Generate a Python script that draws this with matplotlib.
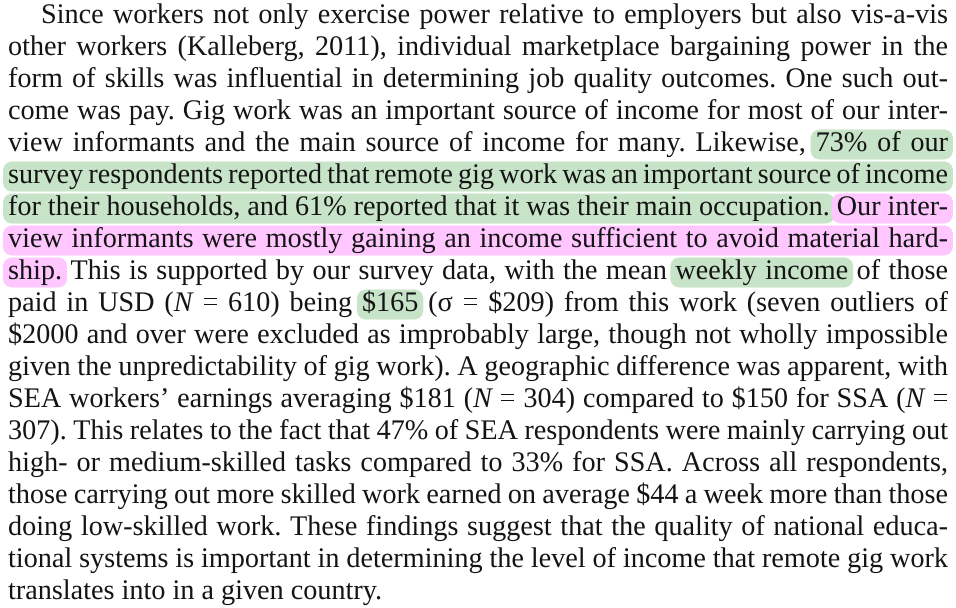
import matplotlib
matplotlib.use("Agg")
import matplotlib.pyplot as plt
from matplotlib.font_manager import FontProperties
from matplotlib.textpath import TextPath, TextToPath
from matplotlib.patches import PathPatch, FancyBboxPatch
from matplotlib.transforms import Affine2D

# paragraph, one entry per printed line; *x* marks italic
lines = [
    "Since workers not only exercise power relative to employers but also vis-a-vis",
    "other workers (Kalleberg, 2011), individual marketplace bargaining power in the",
    "form of skills was influential in determining job quality outcomes. One such out-",
    "come was pay. Gig work was an important source of income for most of our inter-",
    "view informants and the main source of income for many. Likewise, 73% of our",
    "survey respondents reported that remote gig work was an important source of income",
    "for their households, and 61% reported that it was their main occupation. Our inter-",
    "view informants were mostly gaining an income sufficient to avoid material hard-",
    "ship. This is supported by our survey data, with the mean weekly income of those",
    "paid in USD (*N* = 610) being $165 (\u03c3 = $209) from this work (seven outliers of",
    "$2000 and over were excluded as improbably large, though not wholly impossible",
    "given the unpredictability of gig work). A geographic difference was apparent, with",
    "SEA workers\u2019 earnings averaging $181 (*N* = 304) compared to $150 for SSA (*N* =",
    "307). This relates to the fact that 47% of SEA respondents were mainly carrying out",
    "high- or medium-skilled tasks compared to 33% for SSA. Across all respondents,",
    "those carrying out more skilled work earned on average $44 a week more than those",
    "doing low-skilled work. These findings suggest that the quality of national educa-",
    "tional systems is important in determining the level of income that remote gig work",
    "translates into in a given country.",
]

# highlighted runs: (line, first word, last word), -1 = end of line
green_spans = [(4, 11, -1), (5, 0, -1), (6, 0, 11), (8, 11, 12), (9, 7, 7)]
pink_spans = [(6, 12, -1), (7, 0, -1), (8, 0, 0)]

GREEN = "#c8e4c8"
PINK = "#ffc6ff"
INK = "#141414"

W, H = 956, 608
LEFT, RIGHT, INDENT = 8, 948, 41
BASE0, PITCH = 23, 32.0
EM_X, EM_Y = 28.2, 28.4

reg = FontProperties(family="Liberation Serif", size=100)
ita = FontProperties(family="Liberation Serif", style="italic", size=100)
t2p = TextToPath()


def segments(word):
    parts = word.split("*")
    return [(p, ita if i % 2 else reg) for i, p in enumerate(parts) if p]


def seg_width(s, prop):
    w, _, _ = t2p.get_text_width_height_descent(s, prop, ismath=False)
    return w / 100 * EM_X


fig = plt.figure(figsize=(W / 100, H / 100), dpi=100)
ax = fig.add_axes([0, 0, 1, 1])
ax.set_xlim(0, W)
ax.set_ylim(0, H)
ax.axis("off")

space_w = seg_width(" ", reg)
word_pos = []
for i, line in enumerate(lines):
    words = line.split(" ")
    widths = [sum(seg_width(s, p) for s, p in segments(w)) for w in words]
    x0 = INDENT if i == 0 else LEFT
    if i == len(lines) - 1:
        gap = space_w
    else:
        gap = (RIGHT - x0 - sum(widths)) / (len(words) - 1)
    base = H - (BASE0 + i * PITCH)
    x = x0
    pos = []
    for w, wd in zip(words, widths):
        pos.append((x, x + wd))
        sx = x
        for s, p in segments(w):
            tp = TextPath((0, 0), s, size=100, prop=p)
            tr = Affine2D().scale(EM_X / 100, EM_Y / 100).translate(sx, base)
            ax.add_patch(PathPatch(tr.transform_path(tp), fc=INK, lw=0, zorder=3))
            sx += seg_width(s, p)
        x += wd + gap
    word_pos.append((base, pos))


def highlight(spans, color):
    for li, a, b in spans:
        base, pos = word_pos[li]
        xa = pos[a][0] - 5
        xb = pos[b][1] + 5
        y0 = base - 8.5
        ax.add_patch(FancyBboxPatch((xa, y0), xb - xa, 30,
                                    boxstyle="round,pad=0,rounding_size=10",
                                    fc=color, ec="none", zorder=1))


highlight(green_spans, GREEN)
highlight(pink_spans, PINK)

fig.savefig("out.png", dpi=100, facecolor="white")
